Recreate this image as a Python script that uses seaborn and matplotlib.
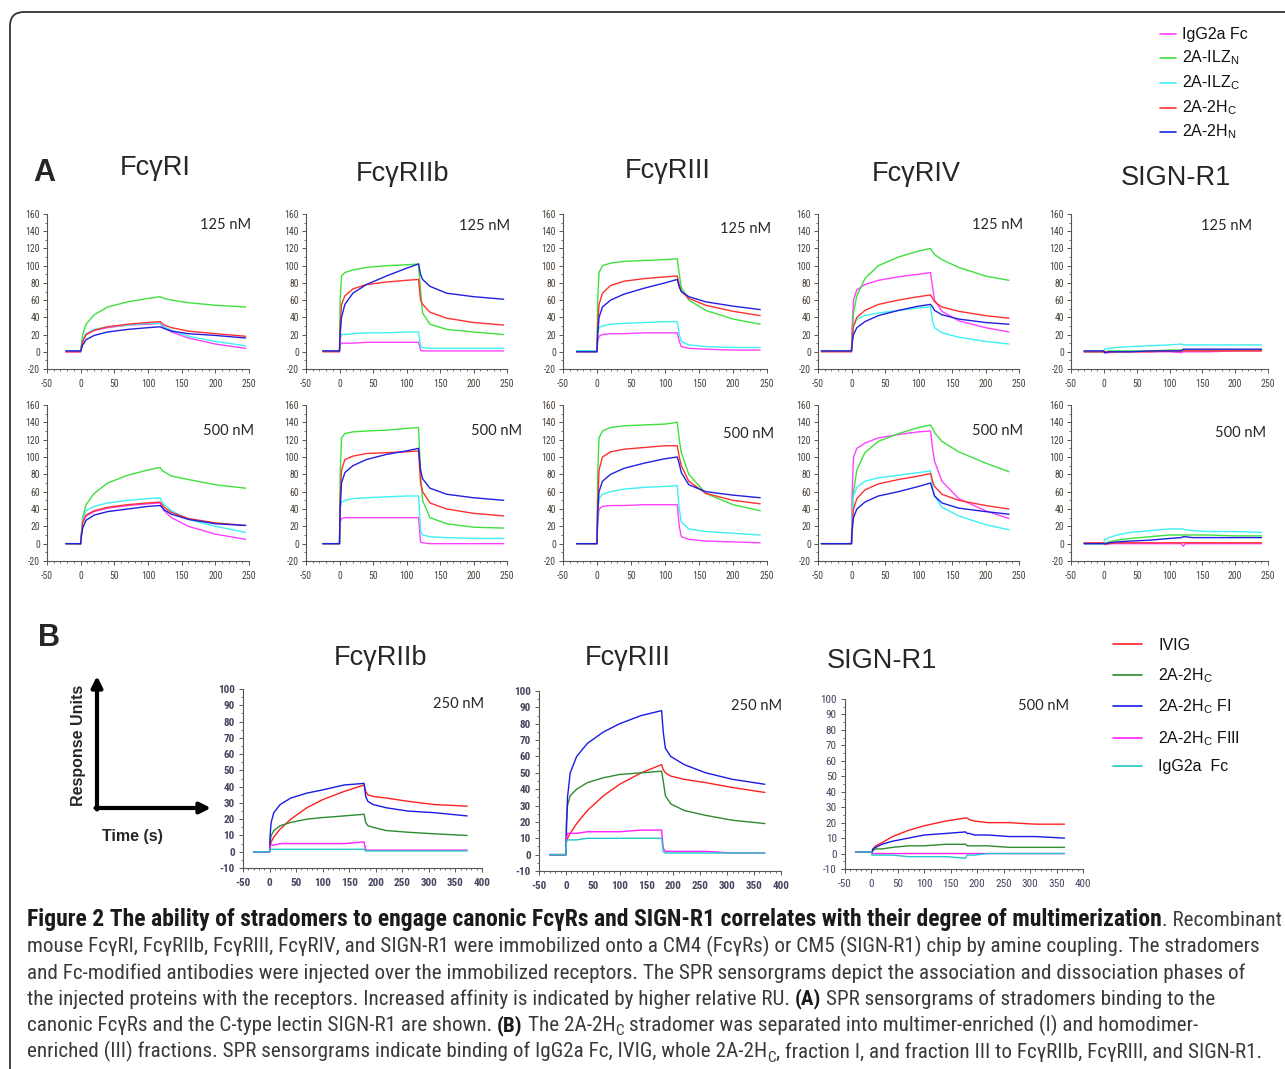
import matplotlib
matplotlib.use('Agg')
import matplotlib.pyplot as plt
from matplotlib import font_manager
from matplotlib.font_manager import FontProperties
from matplotlib.patches import FancyBboxPatch
from matplotlib.ticker import MultipleLocator
import numpy as np
import pandas as pd
import seaborn as sns

# ---- data (RU) ----

# panel A: series order and colours
series_A = ['IgG2a Fc', '2A-ILZN', '2A-ILZC', '2A-2HC', '2A-2HN']
colors_A = ['#ff40ff', '#3ee03e', '#40f0f0', '#ff3030', '#2020e0']
legend_A = ['IgG2a Fc', r'2A-ILZ$_\mathregular{N}$', r'2A-ILZ$_\mathregular{C}$',
            r'2A-2H$_\mathregular{C}$', r'2A-2H$_\mathregular{N}$']
titles_A = ['FcγRI', 'FcγRIIb', 'FcγRIII', 'FcγRIV', 'SIGN-R1']

# time points: start, then shared association/dissociation times, then end
t_start_A = [-22, -25, -30, -45, -30]
t_mid_A = [0, 1, 3, 8, 20, 40, 70, 100, 118, 121, 124, 135, 160, 200]
t_end_A = [245, 245, 240, 235, 240]

# rows: IgG2a Fc, 2A-ILZN, 2A-ILZC, 2A-2HC, 2A-2HN
fcgri_125 = [
    [0, 0, 5, 13, 20, 25, 28, 31, 32, 33, 30, 28, 23, 16, 9, 4],
    [1, 1, 8, 20, 32, 43, 52, 58, 62, 64, 63, 62, 60, 57, 54, 52],
    [1, 1, 6, 14, 21, 26, 29, 31, 33, 33, 31, 29, 25, 18, 12, 7],
    [0, 0, 5, 12, 20, 25, 29, 32, 34, 35, 33, 31, 28, 24, 21, 18],
    [1, 1, 3, 8, 14, 19, 23, 26, 28, 29, 28, 27, 24, 21, 19, 16]]
fcgriib_125 = [
    [1, 1, 8, 10, 10, 10, 11, 11, 11, 11, 2, 1, 1, 1, 1, 1],
    [1, 1, 60, 88, 92, 95, 98, 100, 101, 102, 70, 45, 32, 26, 23, 20],
    [1, 1, 15, 20, 20, 21, 22, 22, 23, 23, 6, 5, 4, 4, 4, 4],
    [0, 0, 30, 55, 65, 73, 78, 81, 83, 84, 60, 55, 46, 39, 34, 31],
    [1, 1, 20, 40, 55, 68, 78, 88, 97, 102, 90, 84, 76, 68, 64, 61]]
fcgriii_125 = [
    [1, 1, 12, 18, 20, 21, 21, 22, 22, 22, 12, 6, 4, 3, 2, 2],
    [1, 1, 60, 92, 100, 103, 105, 106, 107, 108, 90, 75, 60, 48, 38, 32],
    [1, 1, 20, 28, 30, 32, 33, 34, 35, 35, 20, 12, 8, 6, 5, 5],
    [0, 0, 30, 55, 68, 77, 82, 85, 87, 88, 78, 70, 62, 54, 47, 42],
    [0, 0, 20, 40, 52, 60, 67, 74, 80, 84, 75, 70, 64, 58, 53, 49]]
fcgriv_125 = [
    [1, 1, 30, 60, 72, 78, 83, 87, 90, 92, 75, 60, 47, 36, 28, 23],
    [1, 1, 20, 45, 65, 85, 100, 110, 117, 120, 116, 113, 107, 98, 88, 83],
    [1, 1, 15, 30, 38, 42, 45, 48, 51, 52, 35, 28, 22, 17, 12, 9],
    [0, 0, 15, 30, 40, 48, 55, 60, 64, 66, 62, 58, 52, 47, 42, 39],
    [1, 1, 10, 20, 28, 35, 42, 48, 53, 55, 52, 48, 43, 38, 34, 32]]
signr1_125 = [
    [0, 0, -1, -1, -1, 0, 0, 0, 0, -1, 0, 0, 0, 0, 1, 1],
    [0, 0, 0, 0, 1, 1, 1, 1, 2, 2, 2, 2, 2, 2, 2, 2],
    [1, 1, 3, 3, 4, 5, 6, 7, 8, 9, 8, 8, 8, 8, 8, 8],
    [0, 0, 0, 0, 0, 0, 0, 0, 1, 1, 1, 1, 1, 1, 1, 1],
    [1, 1, -1, -1, 0, 0, 0, 1, 1, 1, 3, 3, 3, 3, 3, 3]]

fcgri_500 = [
    [0, 0, 10, 24, 32, 37, 41, 44, 46, 47, 42, 38, 30, 20, 11, 5],
    [0, -1, 10, 30, 45, 58, 70, 79, 85, 88, 84, 83, 78, 74, 68, 64],
    [0, 0, 10, 28, 38, 43, 47, 50, 52, 53, 48, 45, 38, 28, 20, 13],
    [0, 0, 10, 25, 33, 38, 42, 45, 47, 48, 45, 42, 36, 29, 24, 21],
    [0, 0, 8, 18, 27, 33, 37, 40, 43, 44, 42, 39, 34, 28, 23, 21]]
fcgriib_500 = [
    [0, 0, 25, 29, 30, 30, 30, 30, 30, 30, 2, 1, 0, 0, 0, 0],
    [0, 0, 80, 122, 127, 129, 130, 131, 133, 134, 80, 50, 30, 23, 19, 18],
    [0, 0, 40, 48, 50, 52, 53, 54, 55, 55, 15, 10, 8, 7, 6, 6],
    [0, 0, 50, 85, 97, 101, 104, 105, 106, 107, 70, 60, 47, 40, 35, 32],
    [0, 0, 40, 70, 82, 90, 97, 103, 107, 110, 85, 75, 64, 57, 53, 50]]
fcgriii_500 = [
    [0, 0, 25, 40, 43, 44, 44, 45, 45, 45, 20, 8, 5, 3, 2, 1],
    [0, 0, 80, 122, 130, 134, 136, 137, 138, 140, 120, 105, 80, 58, 45, 38],
    [0, 0, 35, 52, 57, 60, 63, 65, 66, 67, 40, 25, 17, 14, 12, 10],
    [0, 0, 45, 85, 100, 106, 109, 111, 113, 113, 100, 90, 72, 58, 50, 46],
    [0, 0, 35, 60, 72, 80, 87, 93, 98, 100, 92, 82, 68, 60, 56, 53]]
fcgriv_500 = [
    [0, 0, 60, 100, 110, 116, 122, 126, 129, 130, 110, 95, 72, 52, 38, 29],
    [0, 0, 30, 60, 85, 105, 118, 127, 134, 137, 133, 128, 118, 106, 93, 83],
    [0, 0, 30, 55, 65, 72, 76, 79, 82, 84, 65, 55, 42, 32, 22, 16],
    [0, 0, 20, 40, 52, 62, 69, 74, 78, 81, 72, 66, 57, 50, 44, 40],
    [0, 0, 15, 30, 40, 48, 55, 60, 66, 70, 62, 55, 47, 41, 37, 34]]
signr1_500 = [
    [0, 0, -1, -1, 0, 0, 0, 0, 0, 0, -3, 0, 0, 0, 0, 0],
    [0, 0, 0, 1, 2, 4, 6, 8, 10, 10, 10, 10, 10, 10, 9, 9],
    [0, 0, 5, 5, 7, 10, 13, 15, 17, 17, 17, 16, 15, 14, 14, 13],
    [1, 1, 0, 0, 0, 1, 1, 1, 1, 1, 1, 1, 1, 1, 1, 1],
    [0, 0, 0, 0, 1, 2, 3, 4, 6, 7, 8, 8, 7, 7, 7, 7]]

rows_A = [[fcgri_125, fcgriib_125, fcgriii_125, fcgriv_125, signr1_125],
          [fcgri_500, fcgriib_500, fcgriii_500, fcgriv_500, signr1_500]]
conc_A = ['125 nM', '500 nM']

# panel B
series_B = ['IVIG', '2A-2HC', '2A-2HC FI', '2A-2HC FIII', 'IgG2a Fc']
colors_B = ['#ff2020', '#2e8b2e', '#1a1ae6', '#ff20ff', '#20c8c8']
legend_B = ['IVIG', r'2A-2H$_\mathregular{C}$', r'2A-2H$_\mathregular{C}$ FI',
            r'2A-2H$_\mathregular{C}$ FIII', 'IgG2a  Fc']
titles_B = ['FcγRIIb', 'FcγRIII', 'SIGN-R1']
conc_B = ['250 nM', '250 nM', '500 nM']
t_start_B = [-30, -30, -30]
t_mid_B = [0, 1, 3, 8, 20, 40, 70, 100, 140, 178, 181, 185, 195, 220, 260, 310]
t_end_B = [372, 370, 365]

# rows: IVIG, 2A-2HC, 2A-2HC FI, 2A-2HC FIII, IgG2a Fc
b_fcgriib = [
    [0, 0, 3, 6, 9, 14, 20, 27, 32, 37, 41, 37, 35, 34, 33, 31, 29, 28],
    [0, 0, 5, 10, 13, 16, 18, 20, 21, 22, 23, 18, 16, 15, 13, 12, 11, 10],
    [0, 0, 10, 18, 24, 29, 33, 36, 38, 41, 42, 34, 31, 29, 27, 25, 24, 22],
    [0, 0, 4, 4, 4, 5, 5, 5, 5, 5, 6, 1, 1, 1, 1, 1, 1, 1],
    [0, 0, 1.5, 1.5, 1.5, 1.5, 1.5, 1.5, 1.5, 1.5, 1.5, 0.5, 0.5, 0.5, 0.5, 0.5, 0.5, 0.5]]
b_fcgriii = [
    [0, 0, 8, 10, 13, 19, 27, 36, 43, 50, 55, 52, 50, 48, 46, 44, 41, 38],
    [0, 0, 20, 30, 36, 40, 44, 47, 49, 50, 51, 45, 36, 31, 27, 24, 21, 19],
    [0, 0, 15, 35, 50, 60, 68, 75, 80, 85, 88, 75, 65, 60, 55, 50, 46, 43],
    [0, 0, 10, 13, 13, 13, 14, 14, 14, 15, 15, 4, 2, 2, 2, 2, 1, 1],
    [0, 0, 8, 9, 9, 9, 10, 10, 10, 10, 10, 2, 1, 1, 1, 1, 1, 1]]
b_signr1 = [
    [1, 1, 1, 3, 5, 7, 11, 15, 18, 21, 23, 23, 22, 21, 20, 20, 19, 19],
    [1, 1, 1, 2, 3, 3, 4, 5, 5, 6, 6, 5, 5, 5, 5, 4, 4, 4],
    [1, 1, 1, 3, 4, 6, 8, 10, 12, 13, 14, 13, 13, 12, 12, 11, 11, 10],
    [1, 1, 0, 0, 0, 0, 0, 0, 0, 0, 0, 0, 0, 0, 0, 0, 0, 0],
    [1, 1, -1, -1, -1, -1, -1, -2, -2, -2, -3, -1, -1, -1, 0, 0, 0, 0]]
rows_B = [b_fcgriib, b_fcgriii, b_signr1]

# caption, one list of (text, style) runs per printed line
caption = [
    [('Figure 2 The ability of stradomers to engage canonic FcγRs and SIGN-R1 correlates with their degree of multimerization', 'b'),
     ('. Recombinant', 'n')],
    [('mouse FcγRI, FcγRIIb, FcγRIII, FcγRIV, and SIGN-R1 were immobilized onto a CM4 (FcγRs) or CM5 (SIGN-R1) chip by amine coupling. The stradomers', 'n')],
    [('and Fc-modified antibodies were injected over the immobilized receptors. The SPR sensorgrams depict the association and dissociation phases of', 'n')],
    [('the injected proteins with the receptors. Increased affinity is indicated by higher relative RU. ', 'n'), ('(A)', 'b'),
     (' SPR sensorgrams of stradomers binding to the', 'n')],
    [('canonic FcγRs and the C-type lectin SIGN-R1 are shown. ', 'n'), ('(B)', 'b'), (' The 2A-2H', 'n'), ('C', 's'),
     (' stradomer was separated into multimer-enriched (I) and homodimer-', 'n')],
    [('enriched (III) fractions. SPR sensorgrams indicate binding of IgG2a Fc, IVIG, whole 2A-2H', 'n'), ('C', 's'),
     (', fraction I, and fraction III to FcγRIIb, FcγRIII, and SIGN-R1.', 'n')],
]
caption_ends = [1278, 1267, 1265, 1238, 1201, 1262]

# ---- setup ----
sns.set_style('ticks')
installed = {f.name for f in font_manager.fontManager.ttflist}
conc_font = 'Lato' if 'Lato' in installed else 'DejaVu Sans'
plt.rcParams['font.family'] = ['Liberation Sans', 'DejaVu Sans']
plt.rcParams['mathtext.fontset'] = 'custom'
plt.rcParams['mathtext.rm'] = 'Liberation Sans'
plt.rcParams['axes.unicode_minus'] = False


def weight_num(w):
    if isinstance(w, (int, float)):
        return int(w)
    return {'normal': 400, 'regular': 400, 'book': 400, 'bold': 700}.get(str(w).lower(), 400)


# look for a condensed face for the caption (regular + bold)
cond = {}
for f in font_manager.fontManager.ttflist:
    fn = f.fname.lower()
    is_cond = ('condensed' in fn or 'narrow' in fn or str(f.stretch) == 'condensed')
    bad = any(k in fn for k in ('semi', 'extra', 'ultra', 'italic', 'oblique', 'light', 'medium', 'black', 'thin'))
    if is_cond and not bad and f.style == 'normal':
        w = weight_num(f.weight)
        if w in (400, 700):
            cond.setdefault(f.name, {}).setdefault(w, f.fname)
cap_files = None
prefs = ['Liberation Sans Narrow', 'Roboto Condensed', 'Open Sans Condensed', 'Noto Sans',
         'DejaVu Sans', 'Noto Sans Condensed']
for name in prefs + sorted(cond):
    if name in cond and 400 in cond[name] and 700 in cond[name]:
        cap_files = cond[name]
        break


def cap_props(weight, size):
    if cap_files is not None:
        return FontProperties(fname=cap_files[700 if weight == 'bold' else 400], size=size)
    return FontProperties(family='Liberation Sans', weight=weight, size=size)


W, H = 1285, 1069
fig = plt.figure(figsize=(W / 100, H / 100), dpi=100)
fig.patch.set_facecolor('white')


def px_axes(x0, x1, y0, y1):
    return fig.add_axes([x0 / W, 1 - y1 / H, (x1 - x0) / W, (y1 - y0) / H])


def panel_frame(times, rows, names):
    recs = []
    for name, vals in zip(names, rows):
        for t, v in zip(times, vals):
            recs.append((name, t, v))
    return pd.DataFrame(recs, columns=['series', 'time', 'ru'])


def style_axes(ax, xlim, ylim, xmaj, xmin, ymaj, ymin, fs, color, weight, xpad, ypad):
    ax.set_xlim(xlim)
    ax.set_ylim(ylim)
    ax.xaxis.set_major_locator(MultipleLocator(xmaj))
    ax.xaxis.set_minor_locator(MultipleLocator(xmin))
    ax.yaxis.set_major_locator(MultipleLocator(ymaj))
    ax.yaxis.set_minor_locator(MultipleLocator(ymin))
    ax.set_xlabel('')
    ax.set_ylabel('')
    ax.set_facecolor('none')
    sns.despine(ax=ax)
    for s in ['left', 'bottom']:
        ax.spines[s].set_color('#555555')
        ax.spines[s].set_linewidth(0.8)
    ax.tick_params(which='major', length=3, width=0.7, color='#555555', labelsize=fs, labelcolor=color)
    ax.tick_params(which='minor', length=1.5, width=0.6, color='#555555')
    ax.tick_params(axis='x', which='major', pad=xpad)
    ax.tick_params(axis='y', which='major', pad=ypad)
    for lab in ax.get_xticklabels() + ax.get_yticklabels():
        if cap_files is not None:
            lab.set_fontproperties(cap_props(weight, fs))
        else:
            lab.set_fontweight(weight)


# ---- panel A ----
cols_A = [(47, 249), (306, 507), (563, 767), (818, 1019), (1071, 1268)]
rowpx_A = [(214, 369), (405, 561)]
for r, (y0, y1) in enumerate(rowpx_A):
    for c, (x0, x1) in enumerate(cols_A):
        ax = px_axes(x0, x1, y0, y1)
        times = [t_start_A[c]] + t_mid_A + [t_end_A[c]]
        df = panel_frame(times, rows_A[r][c], series_A)
        sns.lineplot(data=df, x='time', y='ru', hue='series', hue_order=series_A,
                     palette=colors_A, legend=False, linewidth=1.0, estimator=None, ax=ax)
        style_axes(ax, (-50, 250), (-20, 160), 50, 10, 20, 10,
                   7 if cap_files is not None else 6, '#4a4038', 'normal', 4, 2)

# ---- panel B ----
axpx_B = [(243, 482, 689, 868), (539, 781, 691, 871), (845, 1083, 699, 869)]
for i, (x0, x1, y0, y1) in enumerate(axpx_B):
    ax = px_axes(x0, x1, y0, y1)
    times = [t_start_B[i]] + t_mid_B + [t_end_B[i]]
    df = panel_frame(times, rows_B[i], series_B)
    sns.lineplot(data=df, x='time', y='ru', hue='series', hue_order=series_B,
                 palette=colors_B, legend=False, linewidth=1.0, estimator=None, ax=ax)
    style_axes(ax, (-50, 400), (-10, 100), 50, 10, 10, 5, 8, '#454560',
               'bold' if i < 2 else 'normal', 4, 3)

# ---- overlay for text, legends and decorations (pixel coords) ----
ov = fig.add_axes([0, 0, 1, 1])
ov.set_xlim(0, W)
ov.set_ylim(H, 0)
ov.axis('off')

ov.add_patch(FancyBboxPatch((10, 12), 1400, 1200, boxstyle='round,pad=0,rounding_size=14',
                            fill=False, edgecolor='#333333', linewidth=1.3))

ov.text(33, 181, 'A', fontsize=22, fontweight='bold', va='baseline')
ov.text(38, 646, 'B', fontsize=22, fontweight='bold', va='baseline')

title_pos_A = [(155, 168), (403, 174), (668, 171), (916, 174), (1176, 178)]
for (x, y), t in zip(title_pos_A, titles_A):
    ov.text(x, y, t, fontsize=19.5, ha='center', va='center')
title_pos_B = [(381, 658), (628, 658), (882, 661)]
for (x, y), t in zip(title_pos_B, titles_B):
    ov.text(x, y, t, fontsize=19.5, ha='center', va='center')

conc_pos_A = [[(226, 225), (485, 226), (746, 229), (998, 225), (1227, 226)],
              [(229, 431), (497, 431), (749, 434), (998, 431), (1241, 433)]]
for r in range(2):
    for (x, y) in conc_pos_A[r]:
        ov.text(x, y, conc_A[r], fontsize=10.5, family=conc_font, ha='center', va='center')
conc_pos_B = [(459, 704), (757, 706), (1044, 706)]
for (x, y), t in zip(conc_pos_B, conc_B):
    ov.text(x, y, t, fontsize=10.5, family=conc_font, ha='center', va='center')

# legends
leg_y_A = [33, 57, 82, 107, 131]
for y, lab, col in zip(leg_y_A, legend_A, colors_A):
    ov.plot([1160, 1176], [y + 1, y + 1], color=col, lw=1.2)
    ov.text(1182, y + 5.5, lab, fontsize=11.5, va='baseline', color='#111111')
leg_y_B = [644, 675, 706, 738, 766]
for y, lab, col in zip(leg_y_B, legend_B, colors_B):
    ov.plot([1113, 1142], [y, y], color=col, lw=1.2)
    ov.text(1158, y + 5.5, lab, fontsize=11.5, va='baseline', color='#111111')

# response units / time schematic
ov.annotate('', xy=(97, 676), xytext=(97, 809.5),
            arrowprops=dict(arrowstyle='-|>', lw=3, color='black', mutation_scale=16, shrinkA=0, shrinkB=0))
ov.annotate('', xy=(211, 808), xytext=(95.5, 808),
            arrowprops=dict(arrowstyle='-|>', lw=3, color='black', mutation_scale=16, shrinkA=0, shrinkB=0))
ov.text(78, 745, 'Response Units', rotation=90, fontsize=11.5, fontweight='bold', ha='center', va='center')
ov.text(132, 836, 'Time (s)', fontsize=11.5, fontweight='bold', ha='center', va='center')

# caption
renderer = fig.canvas.get_renderer()


def text_width(s, size, weight):
    t = ov.text(0, 0, s, fontproperties=cap_props(weight, size))
    w = t.get_window_extent(renderer).width
    t.remove()
    return w


def draw_runs(x, y, runs, size, bold_scale=1.0, draw=True):
    sizes = {'normal': size, 'bold': size * bold_scale}
    sp = {w: text_width('x x', sizes[w], w) - text_width('xx', sizes[w], w) for w in ('normal', 'bold')}
    for txt, style in runs:
        weight = 'bold' if style == 'b' else 'normal'
        fs = size * 0.72 if style == 's' else sizes[weight]
        dy = 4 if style == 's' else 0
        color = '#1a1a1a' if style == 'b' else '#3a3a3a'
        lead = len(txt) - len(txt.lstrip(' '))
        trail = len(txt) - len(txt.rstrip(' '))
        core = txt.strip(' ')
        x += lead * sp[weight]
        t = ov.text(x, y + dy, core, fontproperties=cap_props(weight, fs), color=color, va='baseline')
        x += t.get_window_extent(renderer).width
        if not draw:
            t.remove()
        x += trail * sp[weight]
    return x


# one font size for the running text, the largest that keeps every line inside its width
base = 12.0
fits = []
for runs, xe in zip(caption, caption_ends):
    end = draw_runs(27, 0, runs, base, draw=False)
    fits.append(base * (xe - 27) / (end - 27))
cap_fs = min(min(fits[1:]), 15.5)

# the bold title line is set a little larger so that it fills the first line
bold_w = draw_runs(27, 0, caption[0][:1], cap_fs, draw=False) - 27
norm_w = draw_runs(27, 0, caption[0][1:], cap_fs, draw=False) - 27
bold_scale = min(max((caption_ends[0] - 27 - norm_w) / bold_w, 1.0), 1.12)

for i, runs in enumerate(caption):
    draw_runs(27, 926 + i * 26.3, runs, cap_fs, bold_scale=bold_scale if i == 0 else 1.0)

fig.savefig('out.png', dpi=100)
